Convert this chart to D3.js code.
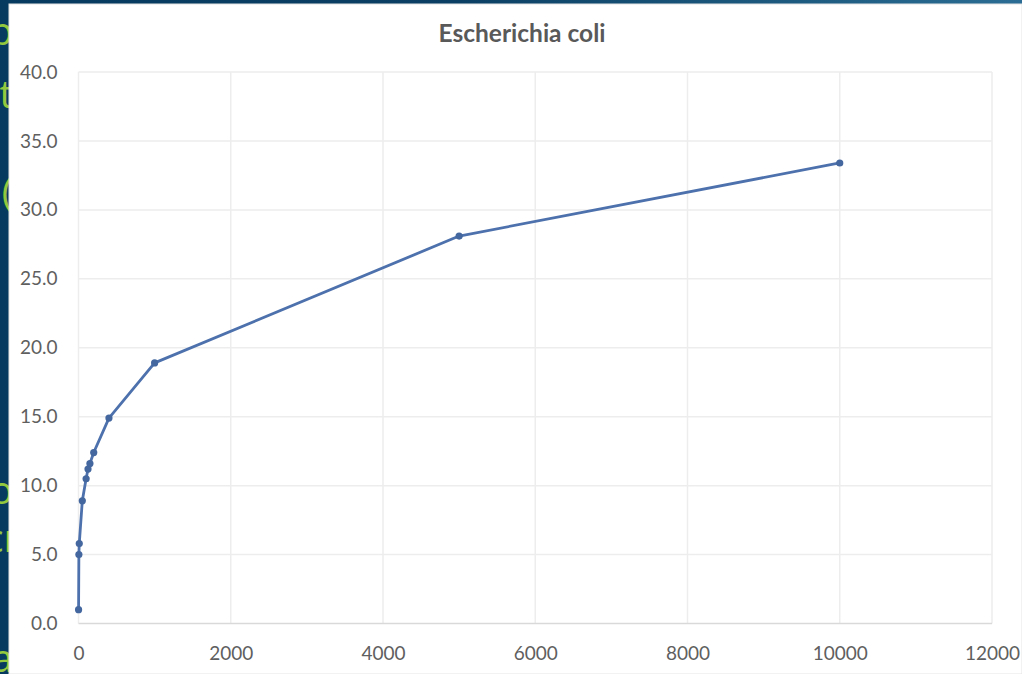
<!DOCTYPE html>
<html>
<head>
<meta charset="utf-8">
<script src="https://cdn.jsdelivr.net/npm/d3@7"></script>
<style>
  html, body { margin: 0; padding: 0; background: #0a3c60; overflow: hidden; }
  #chart { width: 1022px; height: 674px; }
</style>
</head>
<body>
<div id="chart"></div>
<script>
// data
const dilution = [1, 5, 10, 50, 100, 125, 150, 200, 400, 1000, 5000, 10000]
const signal = [1.0, 5.0, 5.8, 8.9, 10.5, 11.2, 11.6, 12.4, 14.9, 18.9, 28.1, 33.4]
const xTicks = [0, 2000, 4000, 6000, 8000, 10000, 12000]
const yTicks = [0, 5, 10, 15, 20, 25, 30, 35, 40]
const chartTitle = 'Escherichia coli'
// slide text peeking out behind the chart
const slideBits = [['p', 45], ['t', 108], ['(', 206], ['o', 504], ['cı', 552], ['a', 672]]

function draw(){
    let dimensions = {
        width: 1022,
        height: 674,
        left: 78.5,
        right: 992,
        top: 72,
        bottom: 623.5
    }

    const svg = d3.select('#chart')
        .append('svg')
        .attr('width', dimensions.width)
        .attr('height', dimensions.height)

    // slide background
    const defs = svg.append('defs')
    const grad = defs.append('linearGradient')
        .attr('id', 'bg')
        .attr('x1', 0).attr('x2', 1).attr('y1', 0).attr('y2', 0)
    grad.append('stop').attr('offset', '0%').attr('stop-color', '#073a5f')
    grad.append('stop').attr('offset', '45%').attr('stop-color', '#0b4064')
    grad.append('stop').attr('offset', '100%').attr('stop-color', '#2b6d94')

    svg.append('rect')
        .attr('width', dimensions.width)
        .attr('height', dimensions.height)
        .attr('fill', 'url(#bg)')

    svg.append('g')
        .selectAll('text')
        .data(slideBits)
        .join('text')
        .attr('x', 13)
        .attr('y', d => d[1])
        .attr('text-anchor', 'end')
        .attr('font-family', 'Open Sans, sans-serif')
        .attr('font-size', 38)
        .attr('fill', '#92c83e')
        .text(d => d[0])

    // white chart panel
    svg.append('rect')
        .attr('x', 9)
        .attr('y', 4)
        .attr('width', dimensions.width - 9)
        .attr('height', dimensions.height - 4)
        .attr('fill', '#ffffff')
        .attr('stroke', '#e4e4e4')
        .attr('stroke-width', 1)

    // scales
    const xScale = d3.scaleLinear()
        .domain([0, 12000])
        .range([dimensions.left, dimensions.right])

    const yScale = d3.scaleLinear()
        .domain([0, 40])
        .range([dimensions.bottom, dimensions.top])

    // gridlines
    const grid = svg.append('g')
    grid.selectAll('line.v')
        .data(xTicks)
        .join('line')
        .attr('class', 'v')
        .attr('x1', d => xScale(d))
        .attr('x2', d => xScale(d))
        .attr('y1', dimensions.top)
        .attr('y2', dimensions.bottom)
        .attr('stroke', '#ededed')
        .attr('stroke-width', 1.5)

    grid.selectAll('line.h')
        .data(yTicks)
        .join('line')
        .attr('class', 'h')
        .attr('x1', dimensions.left)
        .attr('x2', dimensions.right)
        .attr('y1', d => yScale(d))
        .attr('y2', d => yScale(d))
        .attr('stroke', d => d === 0 ? '#d9d9d9' : '#ededed')
        .attr('stroke-width', 1.5)

    // axes
    const xAxis = d3.axisBottom(xScale)
        .tickValues(xTicks)
        .tickFormat(d3.format('d'))
        .tickSize(0)
        .tickPadding(23)
    const xG = svg.append('g')
        .attr('transform', `translate(0, ${dimensions.bottom})`)
        .call(xAxis)
    xG.select('.domain').remove()

    const yAxis = d3.axisLeft(yScale)
        .tickValues(yTicks)
        .tickFormat(d3.format('.1f'))
        .tickSize(0)
        .tickPadding(21)
    const yG = svg.append('g')
        .attr('transform', `translate(${dimensions.left}, 0)`)
        .call(yAxis)
    yG.select('.domain').remove()

    svg.selectAll('.tick text')
        .attr('font-family', 'Lato, Carlito, sans-serif')
        .attr('font-size', 19)
        .attr('fill', '#5f5f5f')

    // title
    svg.append('text')
        .attr('x', 522)
        .attr('y', 42)
        .attr('text-anchor', 'middle')
        .attr('font-family', 'Lato, Carlito, sans-serif')
        .attr('font-weight', 'bold')
        .attr('font-size', 24.5)
        .attr('fill', '#595959')
        .text(chartTitle)

    // series
    const points = dilution.map((x, i) => ({ x: x, y: signal[i] }))

    const line = d3.line()
        .x(d => xScale(d.x))
        .y(d => yScale(d.y))

    svg.append('path')
        .datum(points)
        .attr('d', line)
        .attr('fill', 'none')
        .attr('stroke', '#4d71ac')
        .attr('stroke-width', 2.8)
        .attr('stroke-linejoin', 'round')

    svg.append('g')
        .selectAll('circle')
        .data(points)
        .join('circle')
        .attr('cx', d => xScale(d.x))
        .attr('cy', d => yScale(d.y))
        .attr('r', 3.6)
        .attr('fill', '#44679f')
}

draw()
</script>
</body>
</html>
